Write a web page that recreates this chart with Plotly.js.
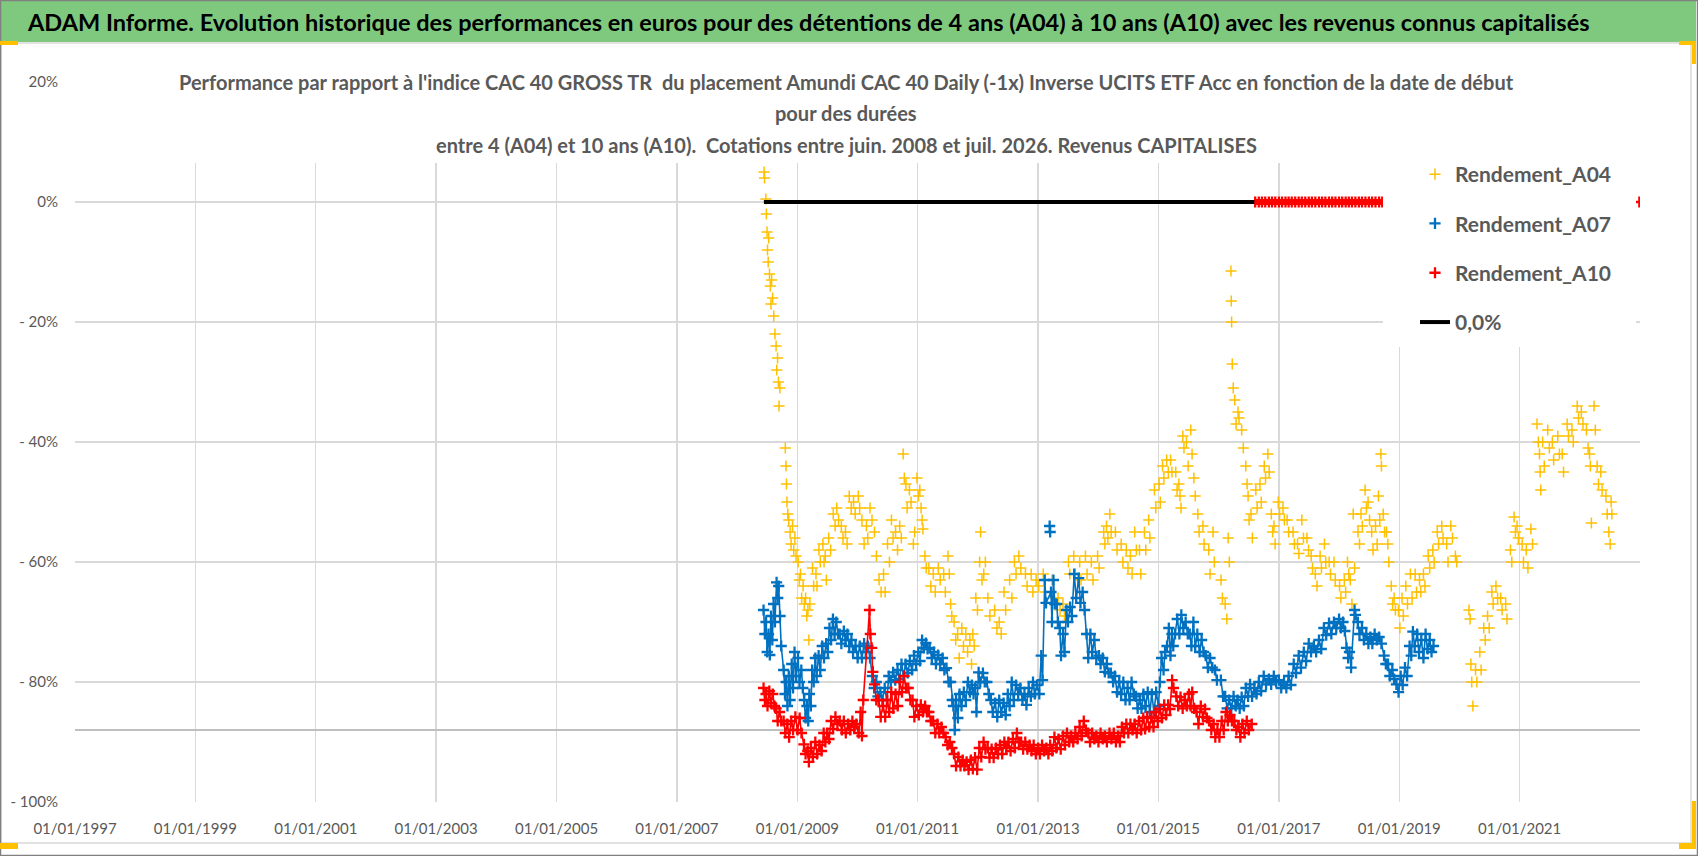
<!DOCTYPE html>
<html>
<head>
<meta charset="utf-8">
<script src="https://cdn.plot.ly/plotly-3.0.1.min.js"></script>
<style>
  html, body { margin: 0; padding: 0; background: #fff; }
  #chart { width: 1698px; height: 856px; }
</style>
</head>
<body>
<div id="chart"></div>
<script>
// ---- data: [start date, performance %] ----
const a04Points = [
  ["2008-06-13",5],["2008-06-16",4],["2008-06-24",0.5],["2008-06-27",-2],["2008-07-01",-5],["2008-07-04",-8],
  ["2008-07-08",-10],["2008-07-11",-6],["2008-07-16",-12],["2008-07-21",-14],["2008-07-25",-17],["2008-07-29",-13],
  ["2008-08-04",-16],["2008-08-11",-19],["2008-08-18",-22],["2008-08-25",-24],["2008-08-29",-28],["2008-09-03",-26],
  ["2008-09-08",-30],["2008-09-12",-34],["2008-09-17",-31],["2008-10-20",-41],["2008-10-24",-44],["2008-10-27",-47],
  ["2008-10-30",-50],["2008-11-04",-52],["2008-11-10",-53],["2008-11-18",-55],["2008-11-24",-57],["2008-12-03",-54],
  ["2008-12-10",-58],["2008-12-17",-56],["2008-12-24",-59],["2009-01-06",-60],["2009-01-13",-63],["2009-01-20",-62],
  ["2009-01-27",-66],["2009-02-05",-64],["2009-02-12",-67],["2009-02-20",-66],["2009-02-27",-69],["2009-03-06",-68],
  ["2009-03-12",-73],["2009-03-18",-67],["2009-04-03",-61],["2009-04-10",-64],["2009-04-24",-62],["2009-04-30",-64],
  ["2009-05-12",-58],["2009-05-20",-60],["2009-06-05",-57],["2009-06-12",-60],["2009-06-19",-59],["2009-06-26",-63],
  ["2009-07-10",-56],["2009-07-22",-58],["2009-08-07",-52],["2009-08-18",-54],["2009-08-28",-51],["2009-09-08",-53],
  ["2009-09-25",-54],["2009-10-05",-56],["2009-10-20",-55],["2009-10-30",-57],["2009-11-12",-49],["2009-11-24",-51],
  ["2009-12-08",-50],["2009-12-18",-52],["2010-01-06",-49],["2010-01-14",-51],["2010-01-28",-53],["2010-02-10",-57],
  ["2010-02-24",-54],["2010-03-04",-56],["2010-03-18",-51],["2010-03-30",-53],["2010-04-14",-55],["2010-04-26",-59],
  ["2010-05-12",-63],["2010-05-24",-65],["2010-06-08",-62],["2010-06-18",-65],["2010-07-02",-57],["2010-07-14",-60],
  ["2010-07-26",-53],["2010-08-05",-56],["2010-08-20",-55],["2010-09-01",-58],["2010-09-14",-54],["2010-09-24",-56],
  ["2010-10-05",-42],["2010-10-12",-46],["2010-10-22",-47],["2010-10-29",-51],["2010-11-12",-48],["2010-11-22",-50],
  ["2010-12-06",-57],["2010-12-14",-55],["2010-12-28",-46],["2011-01-06",-49],["2011-01-14",-48],["2011-01-22",-51],
  ["2011-01-28",-53],["2011-02-02",-54.5],["2011-02-14",-59],["2011-02-22",-61],["2011-03-10",-61],["2011-03-22",-64],
  ["2011-04-06",-62],["2011-04-18",-65],["2011-05-06",-61],["2011-05-18",-63],["2011-06-08",-62],["2011-06-18",-65],
  ["2011-07-04",-59],["2011-07-12",-62],["2011-07-20",-67],["2011-07-27",-69],["2011-08-10",-70],["2011-08-20",-73],
  ["2011-09-01",-72],["2011-09-10",-76],["2011-09-26",-71],["2011-10-06",-74],["2011-10-20",-72],["2011-10-31",-75],
  ["2011-11-14",-73],["2011-11-24",-77],["2011-12-02",-72],["2011-12-10",-74],["2011-12-20",-66],["2011-12-30",-68],
  ["2012-01-12",-60],["2012-01-18",-55],["2012-01-26",-63],["2012-02-06",-62],["2012-02-16",-60],["2012-03-02",-66],
  ["2012-03-14",-69],["2012-04-12",-68],["2012-04-26",-71],["2012-05-10",-70],["2012-05-22",-72],["2012-06-08",-65],
  ["2012-06-18",-68],["2012-07-12",-63],["2012-07-26",-66],["2012-08-10",-60],["2012-08-20",-62],["2012-09-06",-59],
  ["2012-09-18",-61],["2012-10-16",-62],["2012-10-26",-64],["2012-11-20",-62],["2012-11-30",-65],["2012-12-20",-63],
  ["2013-01-04",-64],["2013-02-01",-62],["2013-02-12",-65],["2013-03-26",-63],["2013-04-06",-66],["2013-05-02",-66],
  ["2013-05-14",-68],["2013-06-01",-67],["2013-06-10",-69],["2013-07-04",-60],["2013-07-12",-62],["2013-08-05",-59],
  ["2013-08-14",-62],["2013-09-10",-60],["2013-09-18",-63],["2013-10-15",-59],["2013-10-25",-62],["2013-11-20",-60],
  ["2013-11-30",-63],["2013-12-28",-59],["2014-01-06",-61],["2014-02-03",-55],["2014-02-10",-57],["2014-02-20",-54],
  ["2014-02-28",-56],["2014-03-12",-52],["2014-03-20",-55],["2014-04-15",-55],["2014-04-25",-58],["2014-05-20",-57],
  ["2014-05-30",-60],["2014-06-20",-58],["2014-06-30",-61],["2014-07-15",-59],["2014-07-25",-62],["2014-08-10",-55],
  ["2014-08-20",-58],["2014-09-08",-58],["2014-09-16",-62],["2014-10-08",-55],["2014-10-16",-58],["2014-11-03",-53],
  ["2014-11-10",-56],["2014-12-08",-48],["2014-12-16",-51],["2015-01-05",-47],["2015-01-12",-50],["2015-01-26",-44],
  ["2015-02-03",-46],["2015-02-20",-43],["2015-03-02",-45],["2015-03-16",-43],["2015-03-24",-45],["2015-04-16",-45],
  ["2015-04-24",-48],["2015-05-05",-47],["2015-05-12",-49],["2015-05-18",-51],["2015-05-29",-39],["2015-06-05",-41],
  ["2015-06-20",-40],["2015-06-30",-44],["2015-07-16",-38],["2015-07-24",-42],["2015-08-04",-46],["2015-08-12",-49],
  ["2015-08-28",-52],["2015-09-05",-55],["2015-09-28",-54],["2015-10-05",-57],["2015-11-02",-58],["2015-11-10",-62],
  ["2015-11-28",-55],["2015-12-06",-60],["2016-01-16",-63],["2016-01-24",-66],["2016-02-10",-67],["2016-02-20",-69.5],
  ["2016-02-28",-56],["2016-03-06",-60],["2016-03-16",-11.5],["2016-03-18",-16.5],["2016-03-20",-20],["2016-03-24",-27],
  ["2016-03-30",-31],["2016-04-08",-33],["2016-04-16",-37],["2016-04-28",-35],["2016-05-04",-36],["2016-05-20",-38],
  ["2016-05-30",-41],["2016-06-14",-44],["2016-06-22",-47],["2016-06-28",-49],["2016-07-04",-53],["2016-07-16",-52],
  ["2016-07-24",-56],["2016-08-14",-48],["2016-08-22",-51],["2016-09-08",-47],["2016-09-16",-50],["2016-10-04",-44],
  ["2016-10-12",-46],["2016-10-26",-42],["2016-11-03",-45],["2016-11-16",-52],["2016-11-24",-55],["2016-12-02",-54],
  ["2016-12-09",-57],["2016-12-28",-50],["2017-01-05",-52],["2017-01-26",-51],["2017-02-03",-53],["2017-02-20",-53],
  ["2017-03-01",-55],["2017-03-28",-55],["2017-04-05",-57],["2017-04-24",-57],["2017-05-02",-58.6],["2017-05-20",-53],
  ["2017-05-30",-56],["2017-06-20",-56],["2017-06-30",-58],["2017-07-16",-59],["2017-07-24",-61],["2017-08-10",-62],
  ["2017-08-20",-64],["2017-09-08",-59],["2017-09-16",-61],["2017-10-04",-57],["2017-10-12",-60],["2017-11-02",-60],
  ["2017-11-10",-62],["2017-12-01",-60],["2017-12-09",-63],["2018-01-04",-64],["2018-01-12",-66],["2018-02-02",-63],
  ["2018-02-10",-65],["2018-02-21",-60],["2018-03-01",-62],["2018-03-10",-63],["2018-03-20",-67],["2018-03-28",-52],
  ["2018-04-05",-61],["2018-04-26",-55],["2018-05-05",-57],["2018-05-14",-52],["2018-05-22",-54],["2018-06-08",-48],
  ["2018-06-16",-51],["2018-06-26",-50],["2018-07-05",-53],["2018-07-18",-55],["2018-07-26",-58],["2018-08-10",-54],
  ["2018-08-20",-57],["2018-08-28",-49],["2018-09-05",-53],["2018-09-12",-42],["2018-09-15",-44],["2018-09-26",-52],
  ["2018-10-04",-55],["2018-10-16",-55],["2018-10-24",-57],["2018-10-30",-60],["2018-11-14",-64],["2018-11-22",-67],
  ["2018-12-01",-66],["2018-12-09",-68],["2018-12-28",-68],["2019-01-05",-71],["2019-01-18",-66],["2019-01-26",-69],
  ["2019-02-10",-64],["2019-02-20",-67],["2019-03-10",-62],["2019-03-20",-66],["2019-04-08",-62],["2019-04-16",-65],
  ["2019-05-04",-63],["2019-05-12",-65],["2019-05-28",-62],["2019-06-06",-64],["2019-06-26",-59],["2019-07-05",-61],
  ["2019-07-24",-58],["2019-08-01",-60],["2019-08-20",-55],["2019-08-28",-57],["2019-09-16",-54],["2019-09-24",-56],
  ["2019-10-16",-57],["2019-10-24",-60],["2019-11-10",-54],["2019-11-20",-56],["2019-12-08",-59],["2019-12-16",-60],
  ["2020-02-28",-68],["2020-03-06",-69.5],["2020-03-11",-77],["2020-03-16",-80],["2020-03-23",-84],["2020-04-08",-78],
  ["2020-04-16",-80],["2020-05-04",-75],["2020-05-12",-78],["2020-05-28",-71],["2020-06-06",-73],["2020-06-20",-69],
  ["2020-06-30",-71],["2020-07-16",-65],["2020-07-24",-67],["2020-08-10",-64],["2020-08-20",-66],["2020-09-08",-66],
  ["2020-09-16",-68],["2020-10-08",-67],["2020-10-16",-69.5],["2020-11-06",-58],["2020-11-14",-60],["2020-11-28",-52.5],
  ["2020-12-06",-55],["2020-12-16",-54],["2020-12-24",-56],["2021-01-16",-57],["2021-01-24",-60],["2021-02-10",-58],
  ["2021-02-20",-61],["2021-03-10",-54.5],["2021-03-20",-57],["2021-04-16",-37],["2021-04-24",-40],["2021-05-01",-42],
  ["2021-05-05",-45],["2021-05-09",-48],["2021-05-20",-40],["2021-05-30",-44],["2021-06-20",-38],["2021-06-30",-41],
  ["2021-07-18",-40],["2021-07-26",-43],["2021-08-20",-39],["2021-08-30",-42],["2021-09-16",-42],["2021-09-24",-45],
  ["2021-10-16",-37],["2021-10-24",-39],["2021-11-14",-38],["2021-11-22",-40],["2021-12-16",-34],["2021-12-24",-36],
  ["2022-01-10",-35],["2022-01-20",-37],["2022-02-10",-38],["2022-02-20",-41],["2022-03-01",-42],["2022-03-06",-44],
  ["2022-03-12",-53.5],["2022-03-28",-34],["2022-04-05",-38],["2022-04-16",-44],["2022-04-24",-47],["2022-05-08",-45],
  ["2022-05-16",-48],["2022-06-08",-49],["2022-06-16",-52],["2022-06-26",-55],["2022-07-04",-57],["2022-07-10",-50],
  ["2022-07-14",-52]
];

const a07Points = [
  ["2008-06-10",-68],["2008-06-18",-72],["2008-06-25",-70],["2008-07-02",-75],["2008-07-10",-72],["2008-07-18",-75.5],
  ["2008-07-25",-69],["2008-08-02",-73],["2008-08-10",-67],["2008-08-18",-70],["2008-08-28",-63.4],["2008-09-04",-66],
  ["2008-09-10",-64],["2008-09-18",-69],["2008-09-25",-74],["2008-10-10",-78],["2008-10-18",-82],["2008-10-25",-80],
  ["2008-11-02",-84],["2008-11-10",-79],["2008-11-18",-83],["2008-11-28",-77],["2008-12-06",-81],["2008-12-15",-75],
  ["2008-12-24",-79],["2009-01-05",-76],["2009-01-14",-80],["2009-01-25",-78],["2009-02-03",-81],["2009-02-12",-83],
  ["2009-02-20",-86],["2009-02-28",-84],["2009-03-08",-86.5],["2009-03-15",-82],["2009-03-24",-84],["2009-04-01",-78],
  ["2009-04-10",-80],["2009-04-20",-76],["2009-04-28",-79],["2009-05-10",-75.6],["2009-05-20",-78],["2009-06-01",-74],
  ["2009-06-12",-76],["2009-06-25",-73.6],["2009-07-05",-75],["2009-07-15",-71],["2009-07-25",-73],["2009-08-05",-69.5],
  ["2009-08-15",-72],["2009-08-25",-70],["2009-09-05",-72],["2009-09-15",-72],["2009-09-25",-73.6],["2009-10-10",-71.5],
  ["2009-10-20",-73],["2009-11-01",-72],["2009-11-12",-74],["2009-11-25",-73],["2009-12-05",-75],["2009-12-20",-74],
  ["2010-01-02",-76],["2010-01-15",-74],["2010-01-28",-76],["2010-02-10",-73.6],["2010-02-20",-75],["2010-03-05",-74],
  ["2010-03-18",-76],["2010-04-01",-79],["2010-04-12",-81],["2010-04-25",-80],["2010-05-05",-82.4],["2010-05-20",-81.7],
  ["2010-06-01",-83],["2010-06-15",-81],["2010-06-28",-83],["2010-07-10",-79],["2010-07-22",-80],["2010-08-05",-78.4],
  ["2010-08-18",-79.7],["2010-09-01",-78],["2010-09-12",-79.5],["2010-09-25",-77],["2010-10-08",-79],["2010-10-20",-77],
  ["2010-11-02",-78.5],["2010-11-15",-76.5],["2010-11-28",-78],["2010-12-10",-75.6],["2010-12-22",-77],["2011-01-05",-75],
  ["2011-01-15",-76.5],["2011-01-28",-73],["2011-02-08",-74.3],["2011-02-20",-73.5],["2011-03-02",-74.5],["2011-03-15",-74.3],
  ["2011-03-28",-76],["2011-04-10",-75],["2011-04-22",-77],["2011-05-05",-75.5],["2011-05-18",-77],["2011-06-01",-76],
  ["2011-06-12",-78],["2011-06-25",-77.7],["2011-07-08",-80],["2011-07-20",-80],["2011-07-30",-83],["2011-08-06",-84],
  ["2011-08-14",-88],["2011-08-22",-83],["2011-09-02",-86],["2011-09-12",-82],["2011-09-24",-84],["2011-10-08",-81.7],
  ["2011-10-20",-83],["2011-11-02",-80],["2011-11-14",-81.7],["2011-11-26",-80.5],["2011-12-06",-82],["2011-12-16",-81],
  ["2011-12-24",-85],["2012-01-06",-78.4],["2012-01-16",-80],["2012-02-01",-78.5],["2012-02-12",-80],["2012-02-25",-80],
  ["2012-03-08",-82],["2012-03-20",-83],["2012-04-01",-85],["2012-04-15",-83.5],["2012-04-28",-85.8],["2012-05-10",-83],
  ["2012-05-22",-85],["2012-06-05",-83.5],["2012-06-18",-85.5],["2012-07-01",-82],["2012-07-12",-84],["2012-07-25",-80],
  ["2012-08-06",-83],["2012-08-20",-80.5],["2012-09-02",-82],["2012-09-15",-81],["2012-09-28",-83],["2012-10-10",-82],
  ["2012-10-22",-83.8],["2012-11-05",-81],["2012-11-18",-82.4],["2012-12-01",-80],["2012-12-12",-82],["2012-12-25",-80.5],
  ["2013-01-08",-82],["2013-01-20",-75.6],["2013-01-28",-79.7],["2013-02-10",-63],["2013-02-18",-66.8],
  ["2013-03-20",-65],["2013-03-26",-70],["2013-04-04",-63],["2013-04-12",-67],["2013-04-24",-67],
  ["2013-05-01",-70],["2013-05-12",-71],["2013-05-20",-75.6],["2013-06-01",-72],["2013-06-10",-75],["2013-06-22",-68],
  ["2013-07-01",-70],["2013-07-14",-67.5],["2013-07-25",-69],["2013-08-08",-62],["2013-08-20",-66],["2013-09-04",-62.7],
  ["2013-09-15",-66.8],["2013-09-28",-65],["2013-10-10",-68],["2013-10-22",-72],["2013-11-01",-76],["2013-11-14",-72],
  ["2013-11-25",-75],["2013-12-08",-73],["2013-12-20",-76],["2014-01-05",-75.6],["2014-01-15",-77],["2014-01-28",-76],
  ["2014-02-10",-78.3],["2014-02-22",-77],["2014-03-05",-78.5],["2014-03-18",-78.5],["2014-04-01",-80],["2014-04-12",-79],
  ["2014-04-25",-81.7],["2014-05-08",-80],["2014-05-20",-82],["2014-06-02",-80],["2014-06-15",-83],["2014-06-28",-81],
  ["2014-07-10",-83],["2014-07-22",-80],["2014-08-05",-82],["2014-08-18",-82.4],["2014-08-28",-84.4],["2014-09-10",-83],
  ["2014-09-20",-84.4],["2014-10-02",-82],["2014-10-15",-84],["2014-10-28",-81.7],["2014-11-10",-85],["2014-11-22",-82],
  ["2014-12-05",-85],["2014-12-18",-81.7],["2015-01-01",-84],["2015-01-10",-80],["2015-01-20",-76],["2015-02-01",-78],
  ["2015-02-10",-75],["2015-02-22",-74],["2015-03-05",-71],["2015-03-15",-75.6],["2015-03-24",-72],["2015-04-01",-74],
  ["2015-04-12",-72],["2015-04-25",-69.5],["2015-05-08",-72],["2015-05-20",-68.8],["2015-06-01",-71],["2015-06-15",-70],
  ["2015-06-28",-72],["2015-07-10",-72],["2015-07-20",-74],["2015-08-01",-70],["2015-08-12",-74],["2015-08-25",-72],
  ["2015-09-08",-75],["2015-09-20",-73],["2015-10-02",-75],["2015-10-15",-75.6],["2015-10-28",-77.6],["2015-11-10",-76],
  ["2015-11-24",-77.6],["2015-12-10",-78],["2015-12-22",-79.7],["2016-01-15",-79.7],["2016-01-28",-82.4],["2016-02-10",-82.4],
  ["2016-02-22",-84.4],["2016-03-05",-83],["2016-03-18",-84.4],["2016-04-01",-82.4],["2016-04-14",-84],["2016-04-25",-83],
  ["2016-05-08",-84.4],["2016-05-20",-82.5],["2016-06-02",-84],["2016-06-15",-81],["2016-06-28",-82.4],["2016-07-10",-80.4],
  ["2016-07-22",-82.4],["2016-08-05",-81],["2016-08-18",-82],["2016-09-01",-80],["2016-09-15",-81.5],["2016-10-01",-79],
  ["2016-10-15",-80.4],["2016-11-01",-79.5],["2016-11-15",-80.4],["2016-12-01",-79],["2016-12-15",-80],["2017-01-01",-79.7],
  ["2017-01-15",-81],["2017-02-01",-80],["2017-02-15",-81],["2017-03-01",-79],["2017-03-15",-80.5],["2017-04-01",-77],
  ["2017-04-15",-78.5],["2017-05-01",-75.6],["2017-05-15",-77.6],["2017-06-01",-75],["2017-06-15",-76.5],["2017-07-01",-73.6],
  ["2017-07-15",-75],["2017-08-01",-74],["2017-08-15",-75],["2017-09-01",-73],["2017-09-15",-74.5],["2017-10-01",-71],
  ["2017-10-15",-72.2],["2017-11-01",-70.2],["2017-11-15",-72],["2017-12-01",-70],["2017-12-15",-71],["2018-01-01",-69.5],
  ["2018-01-12",-71],["2018-01-25",-70],["2018-02-05",-71.5],["2018-02-15",-74.3],["2018-02-25",-76],["2018-03-05",-75],
  ["2018-03-15",-77.6],["2018-04-05",-68],["2018-04-10",-68.8],["2018-04-25",-70],["2018-05-05",-72],["2018-05-20",-71],
  ["2018-06-01",-73],["2018-06-15",-72],["2018-06-28",-73.6],["2018-07-10",-72.5],["2018-07-22",-73.6],["2018-08-05",-72],
  ["2018-08-18",-73],["2018-09-01",-72.5],["2018-09-15",-73.6],["2018-10-01",-75.6],["2018-10-12",-77],["2018-10-25",-77],
  ["2018-11-05",-79],["2018-11-20",-78],["2018-12-01",-79.5],["2018-12-15",-80.4],["2018-12-28",-81.7],["2019-01-10",-79],
  ["2019-01-22",-80.5],["2019-02-05",-77.6],["2019-02-18",-79],["2019-03-05",-74],["2019-03-15",-75.6],["2019-03-25",-71.6],
  ["2019-04-05",-74],["2019-04-20",-72],["2019-05-01",-75],["2019-05-15",-73],["2019-05-28",-76],["2019-06-10",-72],
  ["2019-06-22",-74.5],["2019-07-05",-73],["2019-07-16",-75],["2019-07-28",-74]
];
// two isolated A07 points above the cloud in spring 2013
const a07Isolated = [["2013-03-12",-54],["2013-03-15",-55]];

const a10Points = [
  ["2008-06-10",-81],["2008-06-18",-83],["2008-06-25",-82],["2008-07-04",-84],["2008-07-15",-81.5],["2008-07-25",-83.5],
  ["2008-08-05",-82],["2008-08-15",-84],["2008-08-25",-84.4],["2008-09-04",-86.5],["2008-09-15",-85],["2008-09-25",-86.5],
  ["2008-10-10",-86.5],["2008-10-20",-88.5],["2008-11-01",-87],["2008-11-12",-89.2],["2008-11-25",-86.5],["2008-12-06",-88],
  ["2008-12-20",-85.8],["2009-01-02",-88],["2009-01-15",-86],["2009-01-26",-88.5],["2009-02-10",-90.4],["2009-02-20",-92],
  ["2009-03-05",-91.5],["2009-03-12",-93.3],["2009-03-25",-91],["2009-04-05",-92.5],["2009-04-20",-90],["2009-05-01",-92],
  ["2009-05-15",-90.5],["2009-05-28",-91.5],["2009-06-10",-88.5],["2009-06-20",-90],["2009-07-01",-88.5],["2009-07-12",-89.5],
  ["2009-07-25",-86.5],["2009-08-06",-87.8],["2009-08-20",-85.8],["2009-09-01",-87],["2009-09-15",-86.5],["2009-09-28",-88],
  ["2009-10-10",-86.5],["2009-10-22",-88.5],["2009-11-05",-87],["2009-11-18",-88],["2009-12-01",-86.5],["2009-12-12",-87.5],
  ["2009-12-25",-87],["2010-01-08",-88.5],["2010-01-20",-85],["2010-01-28",-89],["2010-02-05",-83],["2010-03-15",-68],
  ["2010-03-20",-72],["2010-03-28",-74.3],["2010-04-04",-78.3],["2010-04-15",-80.4],["2010-04-25",-83],["2010-05-10",-83],
  ["2010-05-22",-85.8],["2010-06-05",-84],["2010-06-18",-85.8],["2010-07-01",-83],["2010-07-12",-85],["2010-07-25",-81.7],
  ["2010-08-06",-84.4],["2010-08-20",-82],["2010-09-02",-84],["2010-09-15",-80],["2010-09-28",-81.7],["2010-10-10",-79],
  ["2010-10-22",-81],["2010-11-05",-81],["2010-11-18",-83],["2010-12-01",-83],["2010-12-12",-85.8],["2010-12-25",-84],
  ["2011-01-08",-85.5],["2011-01-20",-83.8],["2011-02-02",-85],["2011-02-15",-84],["2011-02-26",-85],["2011-03-10",-85],
  ["2011-03-22",-86.5],["2011-04-05",-86.5],["2011-04-18",-88.5],["2011-05-01",-87],["2011-05-12",-88.5],["2011-05-25",-87.5],
  ["2011-06-06",-88.5],["2011-06-20",-89.2],["2011-07-02",-90.5],["2011-07-15",-90],["2011-07-28",-91],["2011-08-10",-92],
  ["2011-08-22",-94],["2011-09-05",-92.5],["2011-09-18",-94],["2011-10-01",-93],["2011-10-12",-94],["2011-10-25",-93.3],
  ["2011-11-06",-94.6],["2011-11-20",-93],["2011-12-02",-94.5],["2011-12-15",-92.6],["2011-12-28",-94.6],["2012-01-10",-91],
  ["2012-01-22",-92.5],["2012-02-05",-90],["2012-02-16",-91.2],["2012-03-01",-91],["2012-03-12",-92.6],["2012-03-25",-91.2],
  ["2012-04-06",-92.6],["2012-04-20",-91],["2012-05-02",-92],["2012-05-15",-90.5],["2012-05-28",-92],["2012-06-10",-90],
  ["2012-06-22",-91],["2012-07-05",-90],["2012-07-18",-91.5],["2012-08-01",-89.5],["2012-08-12",-91],["2012-08-25",-88.5],
  ["2012-09-06",-90],["2012-09-20",-90],["2012-10-02",-91.2],["2012-10-15",-90],["2012-10-28",-91.2],["2012-11-10",-90.5],
  ["2012-11-22",-91.5],["2012-12-05",-90.5],["2012-12-18",-92],["2013-01-01",-91],["2013-01-12",-92],["2013-01-25",-90.5],
  ["2013-02-06",-91.5],["2013-02-20",-91],["2013-03-04",-92],["2013-03-15",-90.5],["2013-03-28",-91.5],["2013-04-10",-89.2],
  ["2013-04-22",-91],["2013-05-05",-89.5],["2013-05-18",-91.2],["2013-06-01",-89],["2013-06-12",-90.5],["2013-06-25",-88.5],
  ["2013-07-08",-90],["2013-07-20",-89],["2013-08-02",-90],["2013-08-15",-88.5],["2013-08-28",-89.5],["2013-09-10",-87.5],
  ["2013-09-22",-89],["2013-10-05",-86.5],["2013-10-18",-88],["2013-11-01",-88.5],["2013-11-12",-90],["2013-11-25",-88.5],
  ["2013-12-08",-89.5],["2013-12-20",-89],["2014-01-02",-90],["2014-01-15",-88.5],["2014-01-28",-89.5],["2014-02-10",-89],
  ["2014-02-22",-90],["2014-03-10",-88.5],["2014-03-22",-89.5],["2014-04-05",-88.5],["2014-04-18",-90],["2014-05-01",-89],
  ["2014-05-12",-90],["2014-05-25",-87.5],["2014-06-06",-88.5],["2014-06-20",-87],["2014-07-02",-88.5],["2014-07-15",-87],
  ["2014-07-28",-88],["2014-08-10",-87],["2014-08-22",-88.5],["2014-09-05",-86.5],["2014-09-18",-88],["2014-10-01",-86],
  ["2014-10-12",-87.8],["2014-10-25",-85.8],["2014-11-06",-87.5],["2014-11-20",-86],["2014-12-02",-87.5],["2014-12-15",-85],
  ["2014-12-28",-86.5],["2015-01-10",-84.5],["2015-01-22",-86],["2015-02-05",-83.8],["2015-02-16",-85.5],["2015-03-01",-83.8],
  ["2015-03-12",-84.5],["2015-03-25",-79.7],["2015-04-02",-81],["2015-04-20",-82.4],["2015-05-01",-84],["2015-05-15",-82.5],
  ["2015-05-28",-84.4],["2015-06-10",-83],["2015-06-22",-84],["2015-07-05",-82],["2015-07-15",-84],["2015-07-25",-81.7],
  ["2015-08-05",-84.4],["2015-08-20",-85],["2015-09-01",-87],["2015-09-15",-84],["2015-09-28",-85.8],["2015-10-10",-84.5],
  ["2015-10-22",-86],["2015-11-05",-86.5],["2015-11-18",-88],["2015-12-01",-87],["2015-12-12",-89.2],["2015-12-25",-88],
  ["2016-01-06",-89.2],["2016-01-20",-86.5],["2016-02-01",-88],["2016-02-15",-85],["2016-02-26",-86.5],["2016-03-10",-85.5],
  ["2016-03-22",-86.5],["2016-04-05",-86.5],["2016-04-18",-88],["2016-05-01",-87.5],["2016-05-12",-89.2],["2016-05-25",-87],
  ["2016-06-06",-88.5],["2016-06-20",-86.5],["2016-07-02",-88],["2016-07-20",-87]
];
// starts after mid-2016 have no complete 10-year window: the file shows them at 0
const a10ZeroRun = [
  ["2016-08-10",0],["2016-09-01",0],["2016-09-20",0],["2016-10-10",0],["2016-11-01",0],["2016-11-20",0],["2016-12-10",0],
  ["2017-01-01",0],["2017-01-20",0],["2017-02-10",0],["2017-03-01",0],["2017-03-20",0],["2017-04-10",0],["2017-05-01",0],
  ["2017-05-20",0],["2017-06-10",0],["2017-07-01",0],["2017-07-20",0],["2017-08-10",0],["2017-09-01",0],["2017-09-20",0],
  ["2017-10-10",0],["2017-11-01",0],["2017-11-20",0],["2017-12-10",0],["2018-01-01",0],["2018-01-20",0],["2018-02-10",0],
  ["2018-03-01",0],["2018-03-20",0],["2018-04-10",0],["2018-05-01",0],["2018-05-20",0],["2018-06-10",0],["2018-07-01",0],
  ["2018-07-20",0],["2018-08-10",0],["2018-09-01",0],["2018-09-20",0],["2018-10-08",0]
];
const a10LastPoint = [["2022-12-28",0]];

// reference lines
const zeroLineX = ["2008-06-12", "2016-08-05"];
const zeroLineY = [0, 0];
const floorLineX = ["1997-01-01", "2023-01-01"];
const floorLineY = [-88, -88];

// axes
const xTickVals = ["1997-01-01","1999-01-01","2001-01-01","2003-01-01","2005-01-01","2007-01-01",
  "2009-01-01","2011-01-01","2013-01-01","2015-01-01","2017-01-01","2019-01-01","2021-01-01"];
const xTickText = ["01/01/1997","01/01/1999","01/01/2001","01/01/2003","01/01/2005","01/01/2007",
  "01/01/2009","01/01/2011","01/01/2013","01/01/2015","01/01/2017","01/01/2019","01/01/2021"];
const yTickVals = [20, 0, -20, -40, -60, -80, -100];
const yTickText = ["20%", "0%", "- 20%", "- 40%", "- 60%", "- 80%", "- 100%"];

const seriesNames = ["Rendement_A04", "Rendement_A07", "Rendement_A10", "0,0%"];

// ---- layout helpers (pixel -> paper) ----
const W = 1698, H = 856, ML = 75, MR = 58, MT = 82, MB = 54;
const px = x => (x - ML) / (W - ML - MR);
const py = y => (H - MB - y) / (H - MT - MB);
const FONT = 'Lato, "Liberation Sans", sans-serif';
const GREY = "#595959";

function rect(x0, y0, x1, y1, fill, line) {
  return {
    type: "rect", xref: "paper", yref: "paper",
    x0: px(x0), x1: px(x1), y0: py(y1), y1: py(y0),
    fillcolor: fill || "rgba(0,0,0,0)",
    line: line || { width: 0 },
    layer: "above"
  };
}

function scatterTrace(points, name, color, size, lw, group) {
  return {
    x: points.map(p => p[0]),
    y: points.map(p => p[1]),
    type: "scatter",
    mode: "markers",
    name: name,
    legendgroup: group,
    marker: { symbol: "cross-thin", size: size, color: color, line: { color: color, width: lw } },
    hoverinfo: "x+y"
  };
}

// trail joining the dense daily points of a run (no legend entry)
function trailTrace(points, color, width) {
  return {
    x: points.map(p => p[0]), y: points.map(p => p[1]),
    type: "scatter", mode: "lines", showlegend: false, hoverinfo: "skip",
    line: { color: color, width: width }
  };
}

const traces = [
  {
    x: floorLineX, y: floorLineY, type: "scatter", mode: "lines",
    line: { color: "#BFBFBF", width: 2 }, showlegend: false, hoverinfo: "skip"
  },
  scatterTrace(a04Points, seriesNames[0], "#FFC000", 8, 1.5, "g1"),
  trailTrace(a07Points, "#0070C0", 1.6),
  scatterTrace(a07Points.concat(a07Isolated), seriesNames[1], "#0070C0", 8, 2.3, "g2"),
  trailTrace(a10Points, "#FF0000", 1.6),
  trailTrace(a10ZeroRun, "#FF0000", 6),
  scatterTrace(a10Points.concat(a10ZeroRun, a10LastPoint), seriesNames[2], "#FF0000", 8, 2.3, "g3"),
  {
    x: zeroLineX, y: zeroLineY, type: "scatter", mode: "lines", name: seriesNames[3],
    legendgroup: "g4", line: { color: "#000000", width: 4 }
  }
];

const layout = {
  width: W, height: H,
  margin: { l: ML, r: MR, t: MT, b: MB, pad: 0 },
  paper_bgcolor: "#ffffff",
  plot_bgcolor: "#ffffff",
  font: { family: FONT, color: GREY },
  showlegend: true,
  legend: {
    x: px(1385), y: py(154), xanchor: "left", yanchor: "top",
    bgcolor: "rgba(0,0,0,0)", borderwidth: 0,
    font: { family: FONT, size: 21, color: GREY, weight: "bold" },
    traceorder: "grouped", tracegroupgap: 19,
    indentation: 30
  },
  xaxis: {
    type: "date",
    range: ["1997-01-01", "2023-01-01"],
    tickvals: xTickVals, ticktext: xTickText,
    showgrid: true, gridcolor: "#D9D9D9", gridwidth: 1.3,
    zeroline: false, showline: false, ticks: "",
    ticklabelstandoff: 16,
    tickfont: { family: FONT, size: 15, color: GREY }
  },
  yaxis: {
    range: [-100, 20],
    tickvals: yTickVals, ticktext: yTickText,
    showgrid: true, gridcolor: "#D9D9D9", gridwidth: 1.3,
    zeroline: false, showline: false, ticks: "",
    ticklabelstandoff: 16,
    tickfont: { family: FONT, size: 15, color: GREY }
  },
  shapes: [
    // green header band and frames
    rect(1, 1, 1696, 42, "#7FC97F"),
    rect(1, 43, 1691, 843, null, { color: "#D9D9D9", width: 1.5 }),
    rect(0.5, 0.5, 1697.5, 855.5, null, { color: "#808080", width: 1.5 }),
    // yellow corner marks
    rect(0, 41, 18, 45, "#FFC000"),
    rect(1679, 41, 1696, 45, "#FFC000"),
    rect(1692, 41, 1696, 64, "#FFC000"),
    rect(1692, 801, 1696, 849, "#FFC000"),
    rect(1679, 843, 1696, 849, "#FFC000"),
    rect(0, 843, 18, 849, "#FFC000"),
    // white boxes behind chart title and legend
    rect(168, 62, 1523, 163, "#FFFFFF"),
    rect(1383, 150, 1636, 347, "#FFFFFF")
  ],
  annotations: [
    {
      xref: "paper", yref: "paper", x: px(25), y: py(22), xanchor: "left", yanchor: "middle",
      showarrow: false,
      text: "<b>ADAM Informe. Evolution historique des performances en euros pour des détentions de 4 ans (A04) à 10 ans (A10) avec les revenus connus capitalisés</b>",
      font: { family: FONT, size: 23.5, color: "#000000" }
    },
    {
      xref: "paper", yref: "paper", x: px(846), y: py(82), xanchor: "center", yanchor: "middle",
      showarrow: false,
      text: "<b>Performance par rapport à l'indice CAC 40 GROSS TR  du placement Amundi CAC 40 Daily (-1x) Inverse UCITS ETF Acc en fonction de la date de début</b>",
      font: { family: FONT, size: 20, color: GREY }
    },
    {
      xref: "paper", yref: "paper", x: px(846), y: py(113), xanchor: "center", yanchor: "middle",
      showarrow: false,
      text: "<b>pour des durées</b>",
      font: { family: FONT, size: 20, color: GREY }
    },
    {
      xref: "paper", yref: "paper", x: px(846), y: py(145), xanchor: "center", yanchor: "middle",
      showarrow: false,
      text: "<b>entre 4 (A04) et 10 ans (A10).  Cotations entre juin. 2008 et juil. 2026. Revenus CAPITALISES</b>",
      font: { family: FONT, size: 20, color: GREY }
    }
  ]
};

Plotly.newPlot("chart", traces, layout, { staticPlot: true, displayModeBar: false });
</script>
</body>
</html>
